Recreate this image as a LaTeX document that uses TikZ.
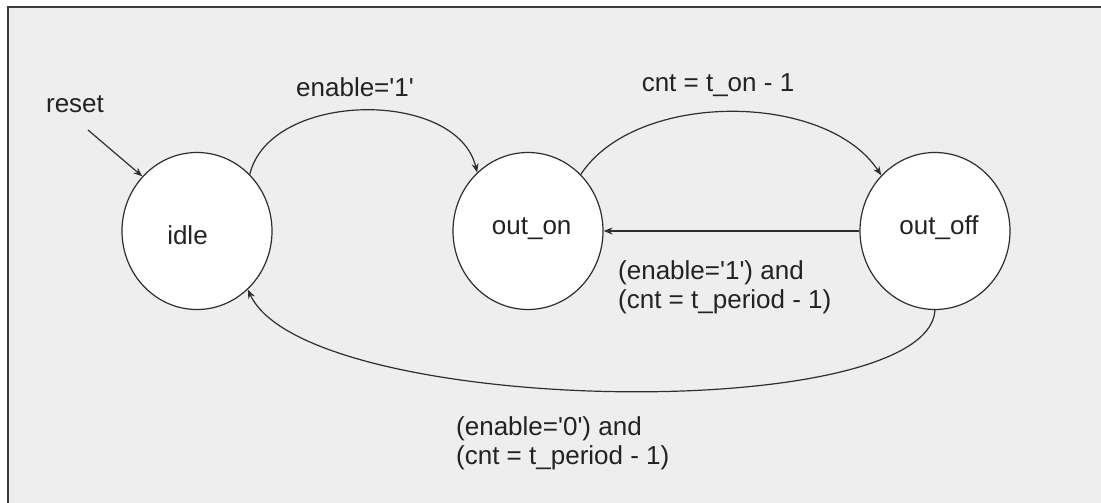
\documentclass[tikz,border=0pt]{standalone}
\usepackage{fontspec}
\setmainfont{Liberation Sans}
\usetikzlibrary{arrows.meta,shapes.geometric}
\definecolor{paper}{HTML}{EEEEEE}
\definecolor{ink}{HTML}{222222}
\definecolor{wire}{HTML}{2E2E2E}
\definecolor{frame}{HTML}{3A3A3A}
\begin{document}
\begin{tikzpicture}[x=1pt,y=-1pt]
\tikzset{
  state/.style={ellipse, draw=wire, line width=1.2pt, fill=white,
    minimum width=150pt, minimum height=157pt, inner sep=0pt},
  lbl/.style={font=\fontsize{26}{29}\selectfont, text=ink, inner sep=0pt},
  trans/.style={draw=wire, line width=1.2pt, -{Stealth[length=9pt,width=7pt]}},
}
% canvas with its frame
\useasboundingbox (0,0) rectangle (1101,503);
\fill[white] (0,0) rectangle (1101,503);
\fill[paper] (8,8) rectangle (1101,503);
\draw[frame, line width=2pt] (7.5,503) -- (7.5,7.5) -- (1101,7.5);

% states
\node[state] (idle)   at (197,231) {};
\node[state] (outon)  at (528,231) {};
\node[state] (outoff) at (935,231) {};
\node[lbl, anchor=base] (idletxt) at (187.5,244) {idle};
\node[lbl, anchor=base] (ontxt)   at (531.7,234) {out\_on};
\node[lbl, anchor=base] (offtxt)  at (939,234) {out\_off};

% reset entry
\coordinate (resetstart) at (88,130);
\node[lbl, anchor=base] (resettxt) at (75,113) {reset};
\draw[trans] (resetstart) -- (idle.135);

% idle -> out_on
\draw[trans] (idle.47) .. controls +(20,-84) and +(-20,-84) .. (outon.131);
\node[lbl, anchor=base] (enabletxt) at (355,96) {enable=\textquotesingle 1\textquotesingle};

% out_on -> out_off
\draw[trans] (outon.47) .. controls +(55,-84) and +(-55,-84) .. (outoff.134);
\node[lbl, anchor=base] (cnttxt) at (718,92) {cnt = t\_on - 1};

% out_off -> out_on
\draw[trans] (outoff) -- (outon);
\node[lbl, anchor=base west, align=left] (cond1) at (618,308)
  {(enable=\textquotesingle 1\textquotesingle) and\\(cnt = t\_period - 1)};

% out_off -> idle
\draw[trans] (outoff.south) .. controls +(-7,116) and +(58,127) .. (idle.-49);
\node[lbl, anchor=base west, align=left] (cond0) at (456,464)
  {(enable=\textquotesingle 0\textquotesingle) and\\(cnt = t\_period - 1)};
\end{tikzpicture}
\end{document}
